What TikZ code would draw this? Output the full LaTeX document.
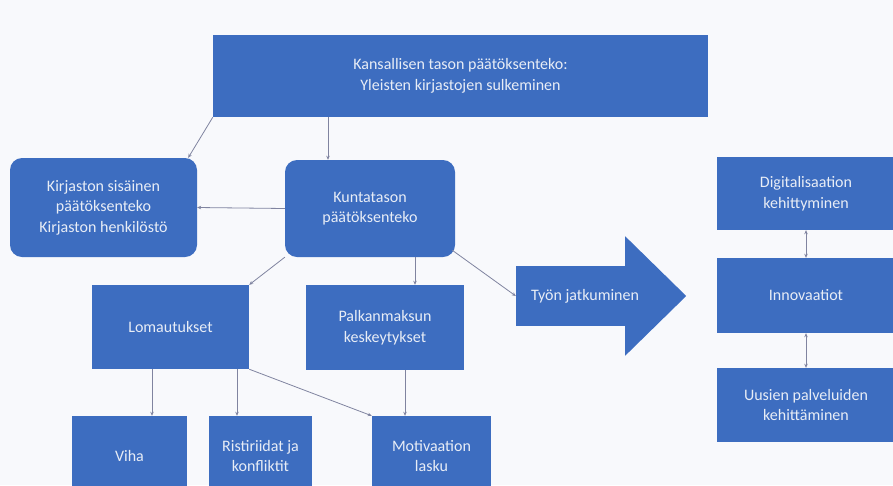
\documentclass[tikz,border=0pt]{standalone}
\usepackage{fontspec}
\setmainfont{Carlito}
\usepackage{tikz}
\usetikzlibrary{positioning,arrows.meta}
\definecolor{boxblue}{RGB}{61,109,192}
\definecolor{linegray}{RGB}{128,132,160}
\definecolor{paper}{RGB}{248,249,252}
\definecolor{boxtext}{RGB}{232,237,246}

\begin{document}
\begin{tikzpicture}[x=1pt, y=-1pt, >={Stealth[length=4pt,width=3.5pt]},
    box/.style={fill=boxblue, text=boxtext, align=center, inner sep=2pt, font=\fontsize{16}{20.5}\selectfont},
    roundbox/.style={box, rounded corners=12pt},
    conn/.style={->, draw=linegray, line width=0.8pt}]
        \clip (0,0) rectangle (893,485);
        \fill[paper] (0,0) rectangle (893,485);
        % left part
        \node[box, minimum width=495, minimum height=82] (kansallinen) at (460.5,76) {Kansallisen tason päätöksenteko:\\Yleisten kirjastojen sulkeminen};
        \node[roundbox, minimum width=187, minimum height=99] (kirjasto) at (103.5,207.5) {Kirjaston sisäinen\\päätöksenteko\\Kirjaston henkilöstö};
        \node[roundbox, minimum width=170, minimum height=97] (kunta) at (370,208.5) {Kuntatason\\päätöksenteko};
        \node[box, minimum width=157, minimum height=84] (loma) at (170.5,327) {Lomautukset};
        \node[box, minimum width=158, minimum height=85] (palkka) at (385,327.5) {Palkanmaksun\\keskeytykset};
        \node[box, minimum width=115, minimum height=80] (viha) at (129.5,456) {Viha};
        \node[box, minimum width=103, minimum height=80] (ristiriita) at (260.5,456) {Ristiriidat ja\\konfliktit};
        \node[box, minimum width=119, minimum height=80] (motivaatio) at (431.5,456) {Motivaation\\lasku};
        % big arrow
        \node[box, minimum width=109, minimum height=60, inner sep=0pt] (jatko) at (570.5,296) {};
        \fill[boxblue] ([yshift=29.5pt]jatko.north east) -- ([xshift=61pt]jatko.east) -- ([yshift=-29.5pt]jatko.south east) -- cycle;
        \node[box, fill=none] (jatkoteksti) at ([xshift=14.5pt]jatko.center) {Työn jatkuminen};
        % right column
        \node[box, minimum width=178, minimum height=73] (digi) at (806,193.5) {Digitalisaation\\kehittyminen};
        \node[box, minimum width=178, minimum height=75] (innovaatio) at (806,295.5) {Innovaatiot};
        \node[box, minimum width=178, minimum height=74] (palvelu) at (806,405) {Uusien palveluiden\\kehittäminen};

        \draw[conn] (kansallinen.south west) -- ([xshift=-9pt]kirjasto.north east);
        \draw[conn] ([xshift=-42pt]kunta.north |- kansallinen.south) -- ([xshift=-42pt]kunta.north);
        \draw[conn] (kunta.west) -- (kirjasto.east);
        \draw[conn] (kunta.south west) -- (loma.north east);
        \draw[conn] ([xshift=30pt]palkka.north |- kunta.south) -- ([xshift=30pt]palkka.north);
        \draw[conn] ([xshift=-3pt,yshift=7pt]kunta.south east) -- (jatko.west);
        \draw[conn] ([xshift=-18.5pt]loma.south) -- ([xshift=-18.5pt]loma.south |- viha.north);
        \draw[conn] ([xshift=-23.5pt]ristiriita.north |- loma.south) -- ([xshift=-23.5pt]ristiriita.north);
        \draw[conn] (loma.south east) -- (motivaatio.north west);
        \draw[conn] ([xshift=20pt]palkka.south) -- ([xshift=20pt]palkka.south |- motivaatio.north);
        \draw[conn, <->] (digi) -- (innovaatio);
        \draw[conn, <->] (innovaatio) -- (palvelu);
    \end{tikzpicture}
\end{document}
